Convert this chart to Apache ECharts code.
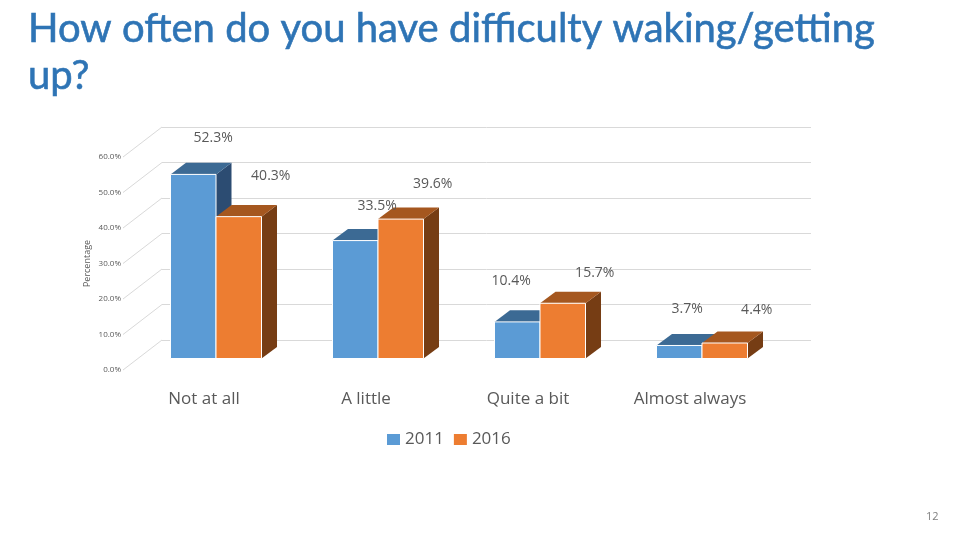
<!DOCTYPE html>
<html>
<head>
<meta charset="utf-8">
<script src="https://cdn.jsdelivr.net/npm/echarts@6/dist/echarts.min.js"></script>
<style>html,body{margin:0;padding:0;background:#fff}#c{width:960px;height:540px}</style>
</head>
<body>
<div id="c"></div>
<script>
const categories = ['Not at all', 'A little', 'Quite a bit', 'Almost always'];
const values2011 = [52.3, 33.5, 10.4, 3.7];
const values2016 = [40.3, 39.6, 15.7, 4.4];
const ticks = [0, 10, 20, 30, 40, 50, 60];
const years = ['2011', '2016'];
const titleText = 'How often do you have difficulty waking/getting\nup?';

// Hand-placed data-label nudges from the top centre of each bar front (style, not data)
const labelNudge2011 = [[20, -36], [22, -35], [-6, -41], [8, -36]];
const labelNudge2016 = [[32, -41], [32, -35], [32, -30], [32, -33]];

const chart = echarts.init(document.getElementById('c'), null, { renderer: 'canvas' });
const TEXT = '#595959';
const DEPTH_X = 15.5, DEPTH_Y = 11.6;

function barSeries(name, vals, side, colors) {
  return {
    name, type: 'custom', xAxisIndex: 2, yAxisIndex: 2, z: 3,
    itemStyle: { color: colors.front },
    data: vals.map((v, i) => [i, v]),
    renderItem(params, api) {
      const band = api.size([1, 0])[0];
      const w = band * 0.2809;
      const top = api.coord([api.value(0), api.value(1)]);
      const base = api.coord([api.value(0), 0]);
      const x0 = side < 0 ? top[0] - w : top[0];
      const x1 = x0 + w;
      return {
        type: 'group',
        children: [
          { type: 'polygon', shape: { points: [[x1, top[1]], [x1 + DEPTH_X, top[1] - DEPTH_Y], [x1 + DEPTH_X, base[1] - DEPTH_Y], [x1, base[1]]] }, style: { fill: colors.side } },
          { type: 'polygon', shape: { points: [[x0, top[1]], [x0 + DEPTH_X, top[1] - DEPTH_Y], [x1 + DEPTH_X, top[1] - DEPTH_Y], [x1, top[1]]] }, style: { fill: colors.top } },
          { type: 'rect', shape: { x: x0, y: top[1], width: w, height: base[1] - top[1] }, style: { fill: colors.front, stroke: '#ffffff', lineWidth: 1 } }
        ]
      };
    }
  };
}

function labelSeries(name, vals, side, nudges) {
  return {
    name, type: 'custom', xAxisIndex: 2, yAxisIndex: 2, z: 5,
    data: vals.map((v, i) => [i, v]),
    renderItem(params, api) {
      const band = api.size([1, 0])[0];
      const w = band * 0.2809;
      const top = api.coord([api.value(0), api.value(1)]);
      const n = nudges[params.dataIndex];
      return {
        type: 'text',
        style: {
          x: top[0] + side * w / 2 + n[0], y: top[1] + n[1],
          text: api.value(1).toFixed(1) + '%',
          fill: TEXT, font: '14px "Open Sans"', align: 'center', verticalAlign: 'middle'
        }
      };
    }
  };
}

const floorLines = {
  name: 'floor', type: 'custom', xAxisIndex: 0, yAxisIndex: 0, z: 1, silent: true,
  data: ticks.map(t => [0, t]),
  renderItem(params, api) {
    const band = api.size([1, 0])[0];
    const p = api.coord([0, api.value(1)]);
    const x = p[0] - band / 2;
    return { type: 'line', shape: { x1: x, y1: p[1], x2: x - 39, y2: p[1] + 30 }, style: { stroke: '#D9D9D9', lineWidth: 1 } };
  }
};

const hiddenX = i => ({ type: 'category', gridIndex: i, data: categories, show: false });
const hiddenY = i => ({ type: 'value', gridIndex: i, min: 0, max: 60, interval: 10, show: false });

chart.setOption({
  animation: false,
  backgroundColor: '#ffffff',
  title: [
    { text: titleText, left: 23, top: 1, textStyle: { fontFamily: 'Lato', fontWeight: 'normal', fontSize: 40, lineHeight: 47, color: '#2E74B5', textBorderColor: '#2E74B5', textBorderWidth: 0.6 } },
    { text: '12', left: 921, top: 506, textStyle: { fontFamily: 'Open Sans', fontWeight: 'normal', fontSize: 11, color: '#7F7F7F' } }
  ],
  legend: {
    data: years, left: 382, top: 426, itemWidth: 13, itemHeight: 11, itemGap: 10, icon: 'rect',
    textStyle: { fontFamily: 'Open Sans', fontSize: 17, color: TEXT }
  },
  grid: [
    { left: 162, width: 649, top: 127, height: 213 },
    { left: 123, width: 648, top: 157, height: 213 },
    { left: 135, width: 648, top: 147.3, height: 211.2 }
  ],
  xAxis: [
    hiddenX(0),
    {
      type: 'category', gridIndex: 1, data: categories,
      axisLine: { show: false }, axisTick: { show: false },
      axisLabel: { margin: 21, interval: 0, color: TEXT, fontFamily: 'Open Sans', fontSize: 17 }
    },
    hiddenX(2)
  ],
  yAxis: [
    {
      type: 'value', gridIndex: 0, min: 0, max: 60, interval: 10,
      axisLine: { show: false }, axisTick: { show: false }, axisLabel: { show: false },
      splitLine: { show: true, lineStyle: { color: '#D9D9D9', width: 1 } }
    },
    {
      type: 'value', gridIndex: 1, min: 0, max: 60, interval: 10,
      name: 'Percentage', nameLocation: 'middle', nameGap: 31, nameRotate: 90, nameMoveOverlap: false,
      nameTextStyle: { color: TEXT, fontFamily: 'Open Sans', fontSize: 9 },
      axisLine: { show: false }, axisTick: { show: false }, splitLine: { show: false },
      axisLabel: { margin: 2, color: TEXT, fontFamily: 'Open Sans', fontSize: 8, formatter: v => v.toFixed(1) + '%' }
    },
    hiddenY(2)
  ],
  series: [
    floorLines,
    barSeries(years[0], values2011, -1, { front: '#5B9BD5', top: '#3C6A94', side: '#2C4C72' }),
    barSeries(years[1], values2016, 1, { front: '#ED7D31', top: '#A5571F', side: '#763D14' }),
    labelSeries('labels2011', values2011, -1, labelNudge2011),
    labelSeries('labels2016', values2016, 1, labelNudge2016)
  ]
});
</script>
</body>
</html>
